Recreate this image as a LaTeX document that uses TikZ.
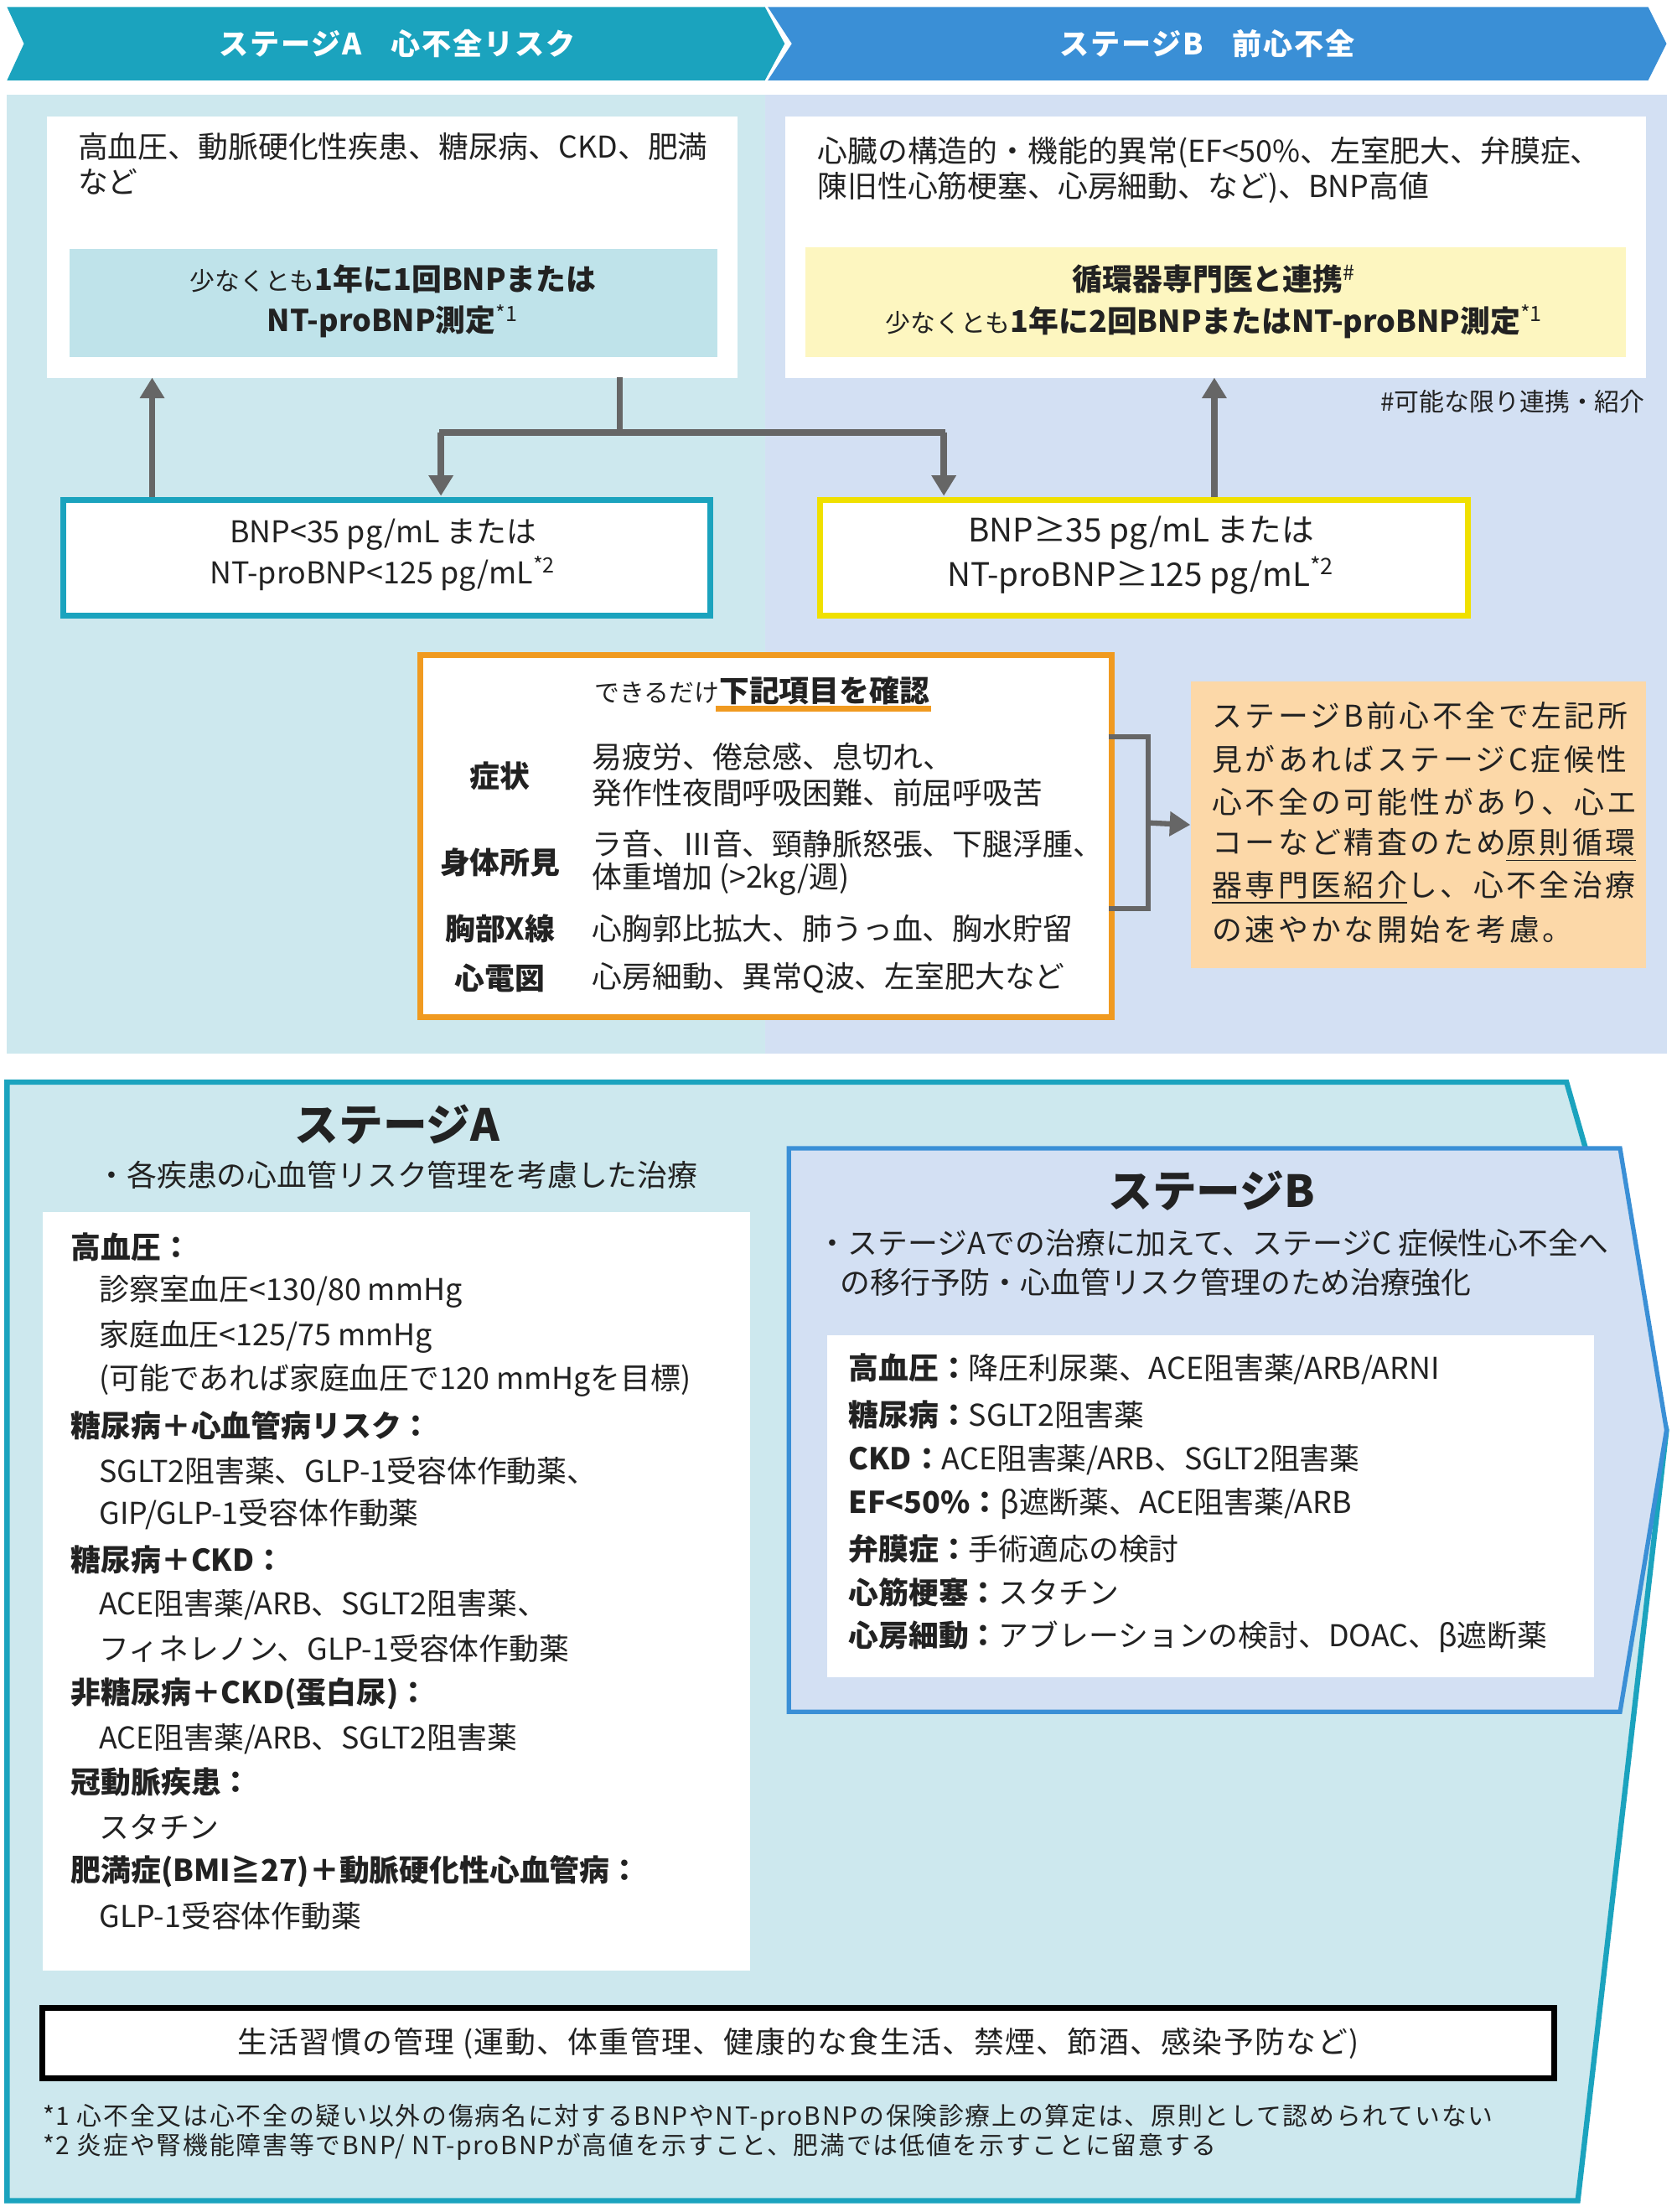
\documentclass[tikz,border=0pt]{standalone}
\usepackage{fontspec}
\setmainfont{Noto Sans CJK JP}
\usetikzlibrary{arrows.meta}
\definecolor{tealb}{HTML}{1BA3BE}
\definecolor{blueb}{HTML}{3A8FD6}
\definecolor{tealbg}{HTML}{CDE8EE}
\definecolor{bluebg}{HTML}{D3E0F3}
\definecolor{tealin}{HTML}{BFE3EA}
\definecolor{yelin}{HTML}{FDF6C0}
\definecolor{yelb}{HTML}{F0E000}
\definecolor{orb}{HTML}{F09A20}
\definecolor{orfill}{HTML}{FCD8A8}
\definecolor{arr}{HTML}{666666}
\definecolor{txt}{HTML}{222222}
\tikzset{
 tx/.style={anchor=west,inner sep=0pt,text=txt,font=\fontsize{10.2}{12}\selectfont},
 txc/.style={inner sep=0pt,text=txt,font=\fontsize{10.2}{12}\selectfont,align=center},
 gar/.style={draw=arr,line width=2.2pt,-{Triangle[length=7pt,width=8pt]}},
 gln/.style={draw=arr,line width=2.2pt},
}
\begin{document}
\begin{tikzpicture}[x=0.01681cm,y=-0.01681cm]
\useasboundingbox (0,0) rectangle (1190,1570);
\fill[white] (0,0) rectangle (1190,1570);
% backgrounds
\fill[tealbg] (5,67) rectangle (543,748);
\fill[bluebg] (543,67) rectangle (1183,748);
% banners
\fill[blueb] (545,5) -- (1170,5) -- (1183,31) -- (1170,57) -- (545,57) -- cycle;
\fill[white] (540,5) -- (545,5) -- (562,31) -- (545,57) -- (540,57) -- cycle;
\fill[tealb] (5,5) -- (543,5) -- (557,31) -- (543,57) -- (5,57) -- (17,31) -- cycle;
\node[txc,text=white,font=\fontsize{10}{12}\selectfont\bfseries\addfontfeature{LetterSpace=5}] (hA) at (282,31) {ステージA\quad 心不全リスク};
\node[txc,text=white,font=\fontsize{10}{12}\selectfont\bfseries\addfontfeature{LetterSpace=5}] (hB) at (857,31) {ステージB\quad 前心不全};
% white boxes
\node[fill=white,minimum width=490*0.01681cm,minimum height=186*0.01681cm,inner sep=0,anchor=north west] (wA) at (33,82) {};
\node[tx] at (55,104) {高血圧、動脈硬化性疾患、糖尿病、CKD、肥満};
\node[tx] at (55,129) {など};
\node[fill=tealin,minimum width=460*0.01681cm,minimum height=77*0.01681cm,inner sep=0,anchor=north west] (iA) at (49,176) {};
\node[txc] at (279,214) {{\fontsize{8.5}{10}\selectfont 少なくとも}\textbf{1年に1回BNPまたは}\\[2pt]\textbf{NT-proBNP測定}\textsuperscript{*1}};
\node[fill=white,minimum width=611*0.01681cm,minimum height=186*0.01681cm,inner sep=0,anchor=north west] (wB) at (557,82) {};
\node[tx] at (580,108) {心臓の構造的・機能的異常(EF<50\%、左室肥大、弁膜症、};
\node[tx] at (580,133) {陳旧性心筋梗塞、心房細動、など)、BNP高値};
\node[fill=yelin,minimum width=583*0.01681cm,minimum height=78*0.01681cm,inner sep=0,anchor=north west] (iB) at (571,175) {};
\node[txc] at (862,214) {\textbf{循環器専門医と連携}\textsuperscript{\#}\\[2pt]{\fontsize{8.5}{10}\selectfont 少なくとも}\textbf{1年に2回BNPまたはNT-proBNP測定}\textsuperscript{*1}};
\node[txc,anchor=east,font=\fontsize{8.5}{10}\selectfont] (note) at (1168,285) {\#可能な限り連携・紹介};
% BNP boxes
\node[draw=tealb,line width=2pt,fill=white,minimum width=459*0.01681cm,minimum height=82*0.01681cm,inner sep=0,anchor=north west] (bA) at (43,353) {};
\node[txc] at (272,394) {BNP<35 pg/mL または\\[2pt]NT-proBNP<125 pg/mL\textsuperscript{*2}};
\node[draw=yelb,line width=2pt,fill=white,minimum width=460*0.01681cm,minimum height=82*0.01681cm,inner sep=0,anchor=north west] (bB) at (580,353) {};
\node[txc,font=\fontsize{11}{13}\selectfont] at (810,394) {BNP≥35 pg/mL または\\[2pt]NT-proBNP≥125 pg/mL\textsuperscript{*2}};
% connectors
\coordinate (s1) at (440,268); \coordinate (s2) at (440,307);
\draw[gln] (s1) -- (s2);
\draw[gar] (313,307) -- (313,352);
\draw[gar] (670,307) -- (670,352);
\draw[gln] (312,307) -- (671,307);
\draw[gar] (bA.north -| 108,0) -- (108,268);
\draw[gar] (bB.north -| 862,0) -- (862,268);
% orange box
\node[draw=orb,line width=2pt,fill=white,minimum width=491*0.01681cm,minimum height=257*0.01681cm,inner sep=0,anchor=north west] (ob) at (296,463) {};
\node[txc] (obt) at (541,490) {{\fontsize{8.5}{10}\selectfont できるだけ}\textbf{下記項目を確認}};
\draw[orb,line width=1.8pt] (508,503) -- (661,503);
\node[txc,font=\fontsize{10.2}{12}\selectfont\bfseries] at (355,551) {症状};
\node[txc,font=\fontsize{10.2}{12}\selectfont\bfseries] at (355,612) {身体所見};
\node[txc,font=\fontsize{10.2}{12}\selectfont\bfseries] at (355,659) {胸部X線};
\node[txc,font=\fontsize{10.2}{12}\selectfont\bfseries] at (355,694) {心電図};
\node[tx] at (420,537) {易疲労、倦怠感、息切れ、};
\node[tx] at (420,563) {発作性夜間呼吸困難、前屈呼吸苦};
\node[tx] at (420,599) {ラ音、Ⅲ音、頸静脈怒張、下腿浮腫、};
\node[tx] at (420,624) {体重増加 (>2kg/週)};
\node[tx] at (420,659) {心胸郭比拡大、肺うっ血、胸水貯留};
\node[tx] at (420,694) {心房細動、異常Q波、左室肥大など};
\node[fill=orfill,minimum width=323*0.01681cm,minimum height=204*0.01681cm,inner sep=0,anchor=north west] (of) at (845,483) {};
\draw[gln,line width=1.8pt] (787,523) -- (815,523) -- (815,645) -- (787,645);
\draw[gar,line width=1.8pt] (815,584) -- (of.west);
\begin{scope}[every node/.style={tx,font=\fontsize{10.2}{12}\selectfont\addfontfeature{LetterSpace=10}}]
\node at (860,508) {ステージB前心不全で左記所};
\node at (860,539) {見があればステージC症候性};
\node at (860,569) {心不全の可能性があり、心エ};
\node at (860,600) {コーなど精査のため\underline{原則循環}};
\node at (860,630) {\underline{器専門医紹介}し、心不全治療};
\node at (860,660) {の速やかな開始を考慮。};
\end{scope}
% bottom arrow panel
\draw[tealb,line width=1.8pt,fill=tealbg] (5,768) -- (1112,768) -- (1183,1015) -- (1120,1562) -- (5,1562) -- cycle;
\node[txc,font=\fontsize{15}{17}\selectfont\bfseries] (tA) at (282,798) {ステージA};
\node[txc] at (282,834) {・各疾患の心血管リスク管理を考慮した治療};
\node[fill=white,minimum width=502*0.01681cm,minimum height=538*0.01681cm,inner sep=0,anchor=north west] (wA2) at (30,860) {};
\begin{scope}[every node/.style={tx}]
\node at (50,885) {\textbf{高血圧：}};
\node at (70,917) {診察室血圧<130/80 mmHg};
\node at (70,949) {家庭血圧<125/75 mmHg};
\node at (70,980) {(可能であれば家庭血圧で120 mmHgを目標)};
\node at (50,1012) {\textbf{糖尿病＋心血管病リスク：}};
\node at (70,1044) {SGLT2阻害薬、GLP-1受容体作動薬、};
\node at (70,1075) {GIP/GLP-1受容体作動薬};
\node at (50,1107) {\textbf{糖尿病＋CKD：}};
\node at (70,1139) {ACE阻害薬/ARB、SGLT2阻害薬、};
\node at (70,1170) {フィネレノン、GLP-1受容体作動薬};
\node at (50,1202) {\textbf{非糖尿病＋CKD(蛋白尿)：}};
\node at (70,1234) {ACE阻害薬/ARB、SGLT2阻害薬};
\node at (50,1265) {\textbf{冠動脈疾患：}};
\node at (70,1297) {スタチン};
\node at (50,1328) {\textbf{肥満症(BMI≧27)＋動脈硬化性心血管病：}};
\node at (70,1360) {GLP-1受容体作動薬};
\end{scope}
\draw[blueb,line width=1.5pt,fill=bluebg] (560,815) -- (1150,815) -- (1183,1015) -- (1150,1215) -- (560,1215) -- cycle;
\node[txc,font=\fontsize{15}{17}\selectfont\bfseries] (tB) at (860,845) {ステージB};
\node[tx] at (580,882) {・ステージAでの治療に加えて、ステージC 症候性心不全へ};
\node[tx] at (596,910) {の移行予防・心血管リスク管理のため治療強化};
\node[fill=white,minimum width=544*0.01681cm,minimum height=243*0.01681cm,inner sep=0,anchor=north west] (wB2) at (587,947) {};
\begin{scope}[every node/.style={tx}]
\node at (602,972) {\textbf{高血圧：}降圧利尿薬、ACE阻害薬/ARB/ARNI};
\node at (602,1004) {\textbf{糖尿病：}SGLT2阻害薬};
\node at (602,1036) {\textbf{CKD：}ACE阻害薬/ARB、SGLT2阻害薬};
\node at (602,1067) {\textbf{EF<50\%：}β遮断薬、ACE阻害薬/ARB};
\node at (602,1099) {\textbf{弁膜症：}手術適応の検討};
\node at (602,1130) {\textbf{心筋梗塞：}スタチン};
\node at (602,1162) {\textbf{心房細動：}アブレーションの検討、DOAC、β遮断薬};
\end{scope}
\node[draw=black,line width=2pt,fill=white,minimum width=1073*0.01681cm,minimum height=50*0.01681cm,inner sep=0,anchor=north west] (life) at (28,1423) {};
\node[txc,font=\fontsize{10.2}{12}\selectfont\addfontfeature{LetterSpace=4}] at (life.center) {生活習慣の管理 (運動、体重管理、健康的な食生活、禁煙、節酒、感染予防など)};
\node[tx,font=\fontsize{8.5}{10}\selectfont\addfontfeature{LetterSpace=6}] at (30,1503) {*1 心不全又は心不全の疑い以外の傷病名に対するBNPやNT-proBNPの保険診療上の算定は、原則として認められていない};
\node[tx,font=\fontsize{8.5}{10}\selectfont\addfontfeature{LetterSpace=6}] at (30,1524) {*2 炎症や腎機能障害等でBNP/ NT-proBNPが高値を示すこと、肥満では低値を示すことに留意する};
\end{tikzpicture}
\end{document}
